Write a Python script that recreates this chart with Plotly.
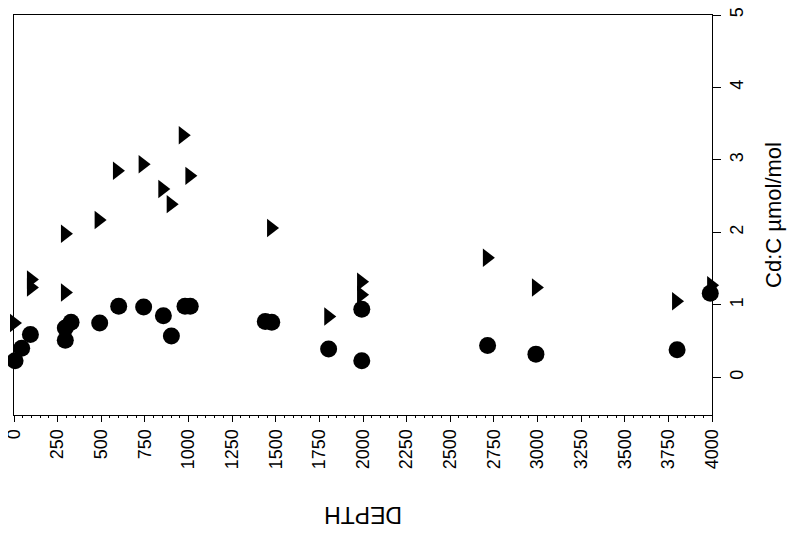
import plotly.graph_objects as go

# circles: Cd:C vs depth
circle_depth = [6, 44, 94, 294, 294, 327, 491, 600, 743, 856, 902, 980, 1010,
                1440, 1477, 1803, 1993, 1993, 2714, 2991, 3800, 3990]
circle_cdc = [0.23, 0.40, 0.59, 0.51, 0.68, 0.76, 0.75, 0.98, 0.97, 0.85, 0.57, 0.98, 0.98,
              0.77, 0.76, 0.39, 0.94, 0.23, 0.44, 0.32, 0.38, 1.16]

# triangles
tri_depth = [0, 97, 97, 292, 292, 485, 590, 737, 850, 898, 967, 1005,
             1473, 1801, 1989, 1989, 2710, 2991, 3794, 3995]
tri_cdc = [0.75, 1.35, 1.24, 1.98, 1.17, 2.17, 2.85, 2.94, 2.60, 2.39, 3.34, 2.78,
           2.06, 0.84, 1.32, 1.14, 1.65, 1.24, 1.05, 1.27]

x_ticks = list(range(0, 4001, 250))
y_ticks = [0, 1, 2, 3, 4, 5]

fig = go.Figure()
fig.add_trace(go.Scatter(x=tri_depth, y=tri_cdc, mode='markers',
                         marker=dict(symbol='triangle-right', size=16, color='black'),
                         cliponaxis=False, showlegend=False))
fig.add_trace(go.Scatter(x=circle_depth, y=circle_cdc, mode='markers',
                         marker=dict(symbol='circle', size=17, color='black'),
                         cliponaxis=False, showlegend=False))

# page body adds 8px, so margins are offset for that
fig.update_layout(
    width=800, height=534,
    margin=dict(l=6, r=96, t=7, b=127),
    plot_bgcolor='white', paper_bgcolor='white',
    font=dict(family='Liberation Sans, Arial, sans-serif', color='black'),
    xaxis=dict(range=[0, 4000], tickvals=x_ticks, tickangle=-90, automargin=False,
               ticklabeloverflow='allow',
               tickfont=dict(size=18), showgrid=False, zeroline=False,
               showline=True, linecolor='black', linewidth=1, mirror=True,
               ticks='outside', ticklen=6, tickcolor='black',
               minor=dict(dtick=50, ticks='outside', ticklen=2, tickcolor='black')),
    yaxis=dict(range=[-0.52, 5], tickvals=y_ticks, side='right', tickangle=-90,
               automargin=False, ticklabeloverflow='allow',
               tickfont=dict(size=18), showgrid=False, zeroline=False,
               showline=True, linecolor='black', linewidth=1, mirror=True,
               ticks='outside', ticklen=8, tickcolor='black',
               title=dict(text='Cd:C µmol/mol', font=dict(size=22), standoff=20)),
    annotations=[dict(text='DEPTH', xref='paper', yref='paper', x=0.5, y=-0.25,
                      xanchor='center', yanchor='middle',
                      showarrow=False, textangle=180,
                      font=dict(family='Liberation Sans, Arial, sans-serif', size=23))],
)

fig.write_html("out.html")
